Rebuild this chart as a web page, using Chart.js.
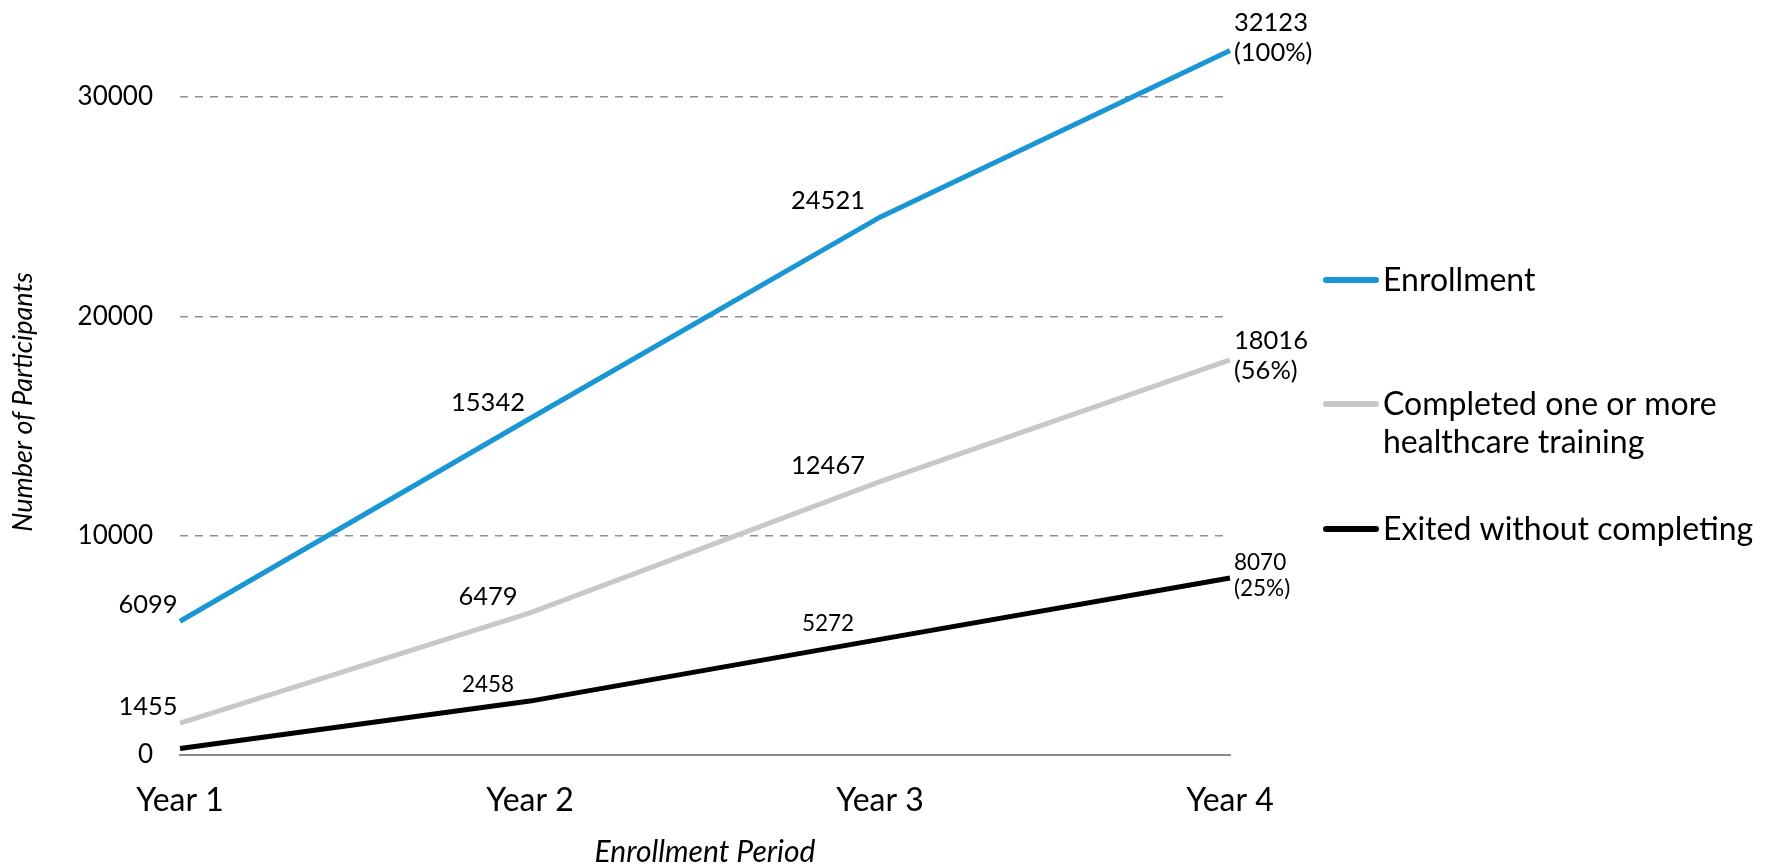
<!DOCTYPE html>
<html>
<head>
<meta charset="utf-8">
<script src="https://cdn.jsdelivr.net/npm/chart.js"></script>
<style>
  html, body { margin: 0; padding: 0; background: #fff; }
  canvas { display: block; }
</style>
</head>
<body>
<canvas id="participantsChart" width="1769" height="867"></canvas>
<script>
var periods = ['Year 1', 'Year 2', 'Year 3', 'Year 4'];
var enrollment = [6099, 15342, 24521, 32123];
var completed = [1455, 6479, 12467, 18016];
var exited = [300, 2458, 5272, 8070];
var yTicks = [0, 10000, 20000, 30000];
var seriesNames = ['Enrollment', ['Completed one or more', 'healthcare training'], 'Exited without completing'];
var seriesColors = ['#1996d3', '#c8c8c8', '#000000'];

// value labels next to each point, last point also gets share of total enrollment
var pointLabels = {
  id: 'pointLabels',
  afterDatasetsDraw: function(chart) {
    var ctx = chart.ctx;
    var total = enrollment[enrollment.length - 1];
    chart.data.datasets.forEach(function(ds, di) {
      var meta = chart.getDatasetMeta(di);
      var size = ds.labelSize;
      ctx.save();
      ctx.font = size + 'px Lato';
      ctx.fillStyle = '#000';
      ctx.textBaseline = 'middle';
      meta.data.forEach(function(pt, i) {
        if (ds.skipLabels.indexOf(i) >= 0) return;
        var v = ds.data[i];
        if (i === ds.data.length - 1) {
          var lh = size * 1.18;
          var y2 = pt.y + ds.tailDy;
          ctx.textAlign = 'left';
          ctx.fillText(String(v), pt.x + 4, y2 - lh);
          ctx.fillText('(' + Math.round(v / total * 100) + '%)', pt.x + 4, y2);
        } else {
          ctx.textAlign = 'center';
          ctx.fillText(String(v), pt.x - 32 - 10 * i, pt.y - 16);
        }
      });
      ctx.restore();
    });
  }
};

// legend on the right and the rotated y axis title
var sideLegend = {
  id: 'sideLegend',
  afterDraw: function(chart) {
    var ctx = chart.ctx;
    var rows = [280, 404, 529];
    ctx.save();
    ctx.font = '32px Lato';
    ctx.textBaseline = 'middle';
    ctx.textAlign = 'left';
    chart.data.datasets.forEach(function(ds, di) {
      var y = rows[di];
      ctx.strokeStyle = ds.borderColor;
      ctx.lineWidth = 6;
      ctx.lineCap = 'round';
      ctx.beginPath();
      ctx.moveTo(1326, y);
      ctx.lineTo(1376, y);
      ctx.stroke();
      ctx.fillStyle = '#000';
      [].concat(seriesNames[di]).forEach(function(line, k) {
        ctx.fillText(line, 1383, y + 1 + k * 38);
      });
    });

    ctx.translate(23, 402);
    ctx.rotate(-Math.PI / 2);
    ctx.textAlign = 'center';
    ctx.font = 'italic 27px Lato';
    ctx.fillText('Number of Participants', 0, 0);
    ctx.restore();
  }
};

new Chart(document.getElementById('participantsChart'), {
  type: 'line',
  data: {
    labels: periods,
    datasets: [
      { label: 'Enrollment', data: enrollment, borderColor: seriesColors[0], labelSize: 25.5, tailDy: 2, skipLabels: [] },
      { label: 'Completed one or more healthcare training', data: completed, borderColor: seriesColors[1], labelSize: 25.5, tailDy: 11, skipLabels: [] },
      { label: 'Exited without completing', data: exited, borderColor: seriesColors[2], labelSize: 22.5, tailDy: 11, skipLabels: [0] }
    ]
  },
  options: {
    responsive: false,
    animation: false,
    layout: { padding: { top: 9, right: 539, bottom: 0, left: 0 } },
    elements: {
      point: { radius: 0, hoverRadius: 0 },
      line: { borderWidth: 5, tension: 0, fill: false }
    },
    plugins: {
      legend: { display: false },
      tooltip: { enabled: false }
    },
    scales: {
      x: {
        grid: { display: false, drawTicks: false },
        border: { display: true, color: '#8c8c8c', width: 2 },
        ticks: { color: '#000', font: { family: 'Lato', size: 32 }, padding: 26, maxRotation: 0 },
        title: {
          display: true,
          text: 'Enrollment Period',
          color: '#000',
          font: { family: 'Lato', size: 30, style: 'italic', lineHeight: 1 },
          padding: { top: 0, bottom: 0 }
        },
        afterFit: function(scale) { scale.height = 112; }
      },
      y: {
        min: 0,
        max: 32480,
        border: { display: false, dash: [8, 7] },
        grid: {
          drawTicks: false,
          lineWidth: 1.5,
          color: function(c) { return c.tick && c.tick.value === 0 ? 'rgba(0,0,0,0)' : '#8f8f8f'; }
        },
        ticks: {
          color: '#000',
          font: { family: 'Lato', size: 26 },
          padding: 27,
          callback: function(v) { return String(v); }
        },
        afterBuildTicks: function(scale) {
          scale.ticks = yTicks.map(function(v) { return { value: v }; });
        },
        afterFit: function(scale) { scale.width = 180; }
      }
    }
  },
  plugins: [pointLabels, sideLegend]
});
</script>
</body>
</html>
